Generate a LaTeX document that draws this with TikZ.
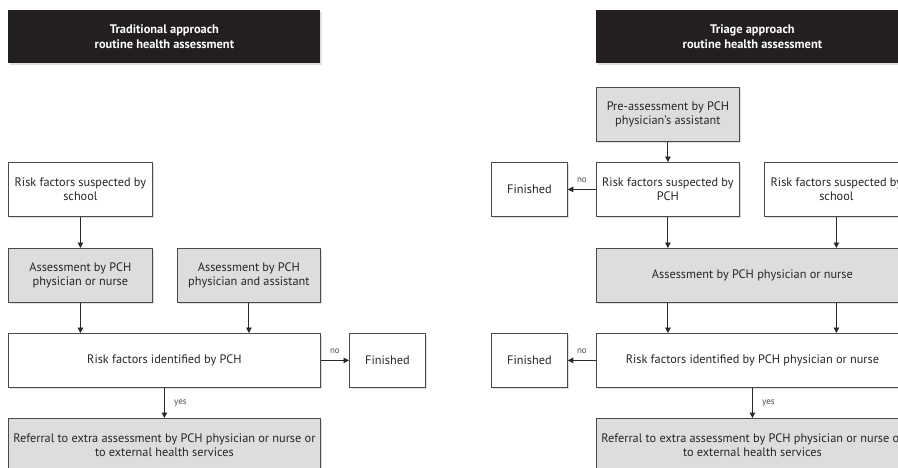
\documentclass[tikz,border=0pt]{standalone}
\usepackage{fontspec}
\setmainfont{PT Sans}
\usetikzlibrary{arrows.meta,shadows}
\definecolor{headblack}{HTML}{231F20}
\definecolor{boxgrey}{HTML}{DCDDDE}
\definecolor{boxline}{HTML}{4A4A4A}
\definecolor{arrowline}{HTML}{2A2A2A}
\tikzset{
  box/.style={draw=boxline, line width=0.8pt, fill=white, anchor=north west,
    minimum height=54pt, inner sep=2pt, align=center, text=black!85,
    font=\fontsize{12.3}{14}\selectfont,
    drop shadow={shadow xshift=1.2pt, shadow yshift=-1.2pt, opacity=0.25, fill=gray}},
  greybox/.style={box, fill=boxgrey},
  head/.style={box, draw=none, fill=headblack, text=white, minimum height=53pt,
    font=\fontsize{12.4}{15}\selectfont\bfseries},
  conn/.style={draw=arrowline, line width=0.9pt, -{Triangle[length=5.5pt,width=5.5pt]}},
  lbl/.style={font=\fontsize{9}{10}\selectfont, text=boxline}
}
\begin{document}
\begin{tikzpicture}[x=1pt, y=1pt]
  \clip (0,0) rectangle (898,-467);
  \fill[white] (0,0) rectangle (898,-467);
  % traditional approach
  \node[head, minimum width=312pt] (thead) at (8,-10) {Traditional approach\\routine health assessment};
  \node[box, minimum width=144pt] (tsch) at (8,-162) {Risk factors suspected by\\school};
  \node[greybox, minimum width=144pt] (tasn) at (8,-248) {Assessment by PCH\\physician or nurse};
  \node[greybox, minimum width=143pt] (tasa) at (177,-248) {Assessment by PCH\\physician and assistant};
  \node[box, minimum width=312pt] (tid) at (8,-333) {Risk factors identified by PCH};
  \node[box, minimum width=76pt] (tfin) at (349,-333) {Finished};
  \node[greybox, minimum width=312pt] (tref) at (8,-418) {Referral to extra assessment by PCH physician or nurse or\\to external health services};
  \draw[conn] (tsch) -- (tasn);
  \draw[conn] (tasn) -- (tasn.south |- tid.north);
  \draw[conn] (tasa) -- (tasa.south |- tid.north);
  \draw[conn] (tid) -- node[lbl, above, yshift=3pt] {no} (tfin);
  \draw[conn] (tid.south -| tref.north) -- node[lbl, right, xshift=6pt] {yes} (tref);
  % triage approach
  \node[head, minimum width=312pt] (rhead) at (596,-10) {Triage approach\\routine health assessment};
  \node[greybox, minimum width=143pt] (rpre) at (596,-87) {Pre-assessment by PCH\\physician's assistant};
  \node[box, minimum width=143pt] (rpch) at (596,-162) {Risk factors suspected by\\PCH};
  \node[box, minimum width=76pt] (rfin1) at (491,-162) {Finished};
  \node[box, minimum width=144pt] (rsch) at (764,-162) {Risk factors suspected by\\school};
  \node[greybox, minimum width=312pt] (rasn) at (596,-248) {Assessment by PCH physician or nurse};
  \node[box, minimum width=312pt] (rid) at (596,-333) {Risk factors identified by PCH physician or nurse};
  \node[box, minimum width=76pt] (rfin2) at (491,-333) {Finished};
  \node[greybox, minimum width=312pt] (rref) at (596,-418) {Referral to extra assessment by PCH physician or nurse or\\to external health services};
  \draw[conn] (rpre) -- (rpch);
  \draw[conn] (rpch) -- node[lbl, above, yshift=3pt] {no} (rfin1);
  \draw[conn] (rpch) -- (rpch.south |- rasn.north);
  \draw[conn] (rsch) -- (rsch.south |- rasn.north);
  \draw[conn] (rpch.south |- rasn.south) -- (rpch.south |- rid.north);
  \draw[conn] (rsch.south |- rasn.south) -- (rsch.south |- rid.north);
  \draw[conn] (rid) -- node[lbl, above, yshift=3pt] {no} (rfin2);
  \draw[conn] (rid) -- node[lbl, right, xshift=6pt] {yes} (rref);
\end{tikzpicture}
\end{document}
